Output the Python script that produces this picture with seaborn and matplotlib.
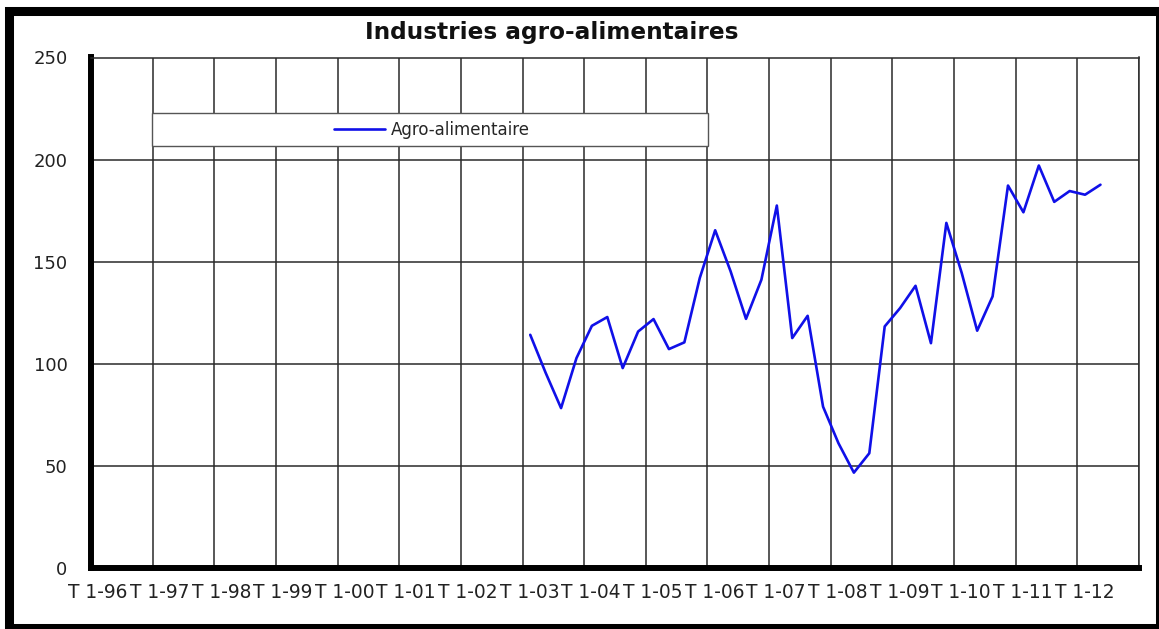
import numpy as np
import pandas as pd
import matplotlib
matplotlib.use("Agg")
import matplotlib.pyplot as plt
import seaborn as sns
from matplotlib.patches import Rectangle
from matplotlib.transforms import ScaledTranslation

# ---- data ----
years = ["96", "97", "98", "99", "00", "01", "02", "03", "04", "05",
         "06", "07", "08", "09", "10", "11", "12"]
quarters = [f"T{q}-{y}" for y in years for q in range(1, 5)]
year_labels = [f"T 1-{y}" for y in years]
series_name = "Agro-alimentaire"
series_start = "T1-03"
series_values = [114.2, 95.6, 78.3, 102.8, 118.6, 122.9, 97.9, 115.8,
                 121.9, 107.2, 110.5, 142.0, 165.4, 145.3, 122.0, 141.2,
                 177.5, 112.6, 123.5, 79.0, 61.1, 46.7, 56.2, 118.3,
                 127.3, 138.2, 110.1, 169.0, 144.4, 116.2, 133.0, 187.3,
                 174.2, 197.1, 179.3, 184.6, 182.8, 187.7]
y_ticks = [0, 50, 100, 150, 200, 250]
title = "Industries agro-alimentaires"

start = quarters.index(series_start)
df = pd.DataFrame({
    "pos": np.arange(start, start + len(series_values)),
    "value": series_values,
})

# ---- style ----
sns.set_theme(style="white")
plt.rcParams["font.family"] = ["DejaVu Sans"]

W, H = 1159, 629
fig = plt.figure(figsize=(W / 100, H / 100), dpi=100)
fig.patch.set_facecolor("white")

ax_l, ax_r, ax_t, ax_b = 91, 1139, 57.5, 568
ax = fig.add_axes([ax_l / W, 1 - ax_b / H, (ax_r - ax_l) / W, (ax_b - ax_t) / H])

sns.lineplot(data=df, x="pos", y="value", ax=ax, color="#1010e8",
             linewidth=1.9, legend=False)

n = len(quarters)
ax.set_xlim(-0.5, n - 0.5)
ax.set_ylim(y_ticks[0], y_ticks[-1])
xt = [4 * k - 0.5 for k in range(len(years) + 1)]
ax.set_xticks(xt)
ax.set_xticklabels(year_labels + [""])
ax.set_yticks(y_ticks)
ax.set_xlabel("")
ax.set_ylabel("")

ax.grid(True, color="#2a2a2a", linewidth=1.1)
ax.set_axisbelow(True)

for s in ["top", "right"]:
    ax.spines[s].set_color("#2a2a2a")
    ax.spines[s].set_linewidth(1.1)
for s in ["left", "bottom"]:
    ax.spines[s].set_color("black")
    ax.spines[s].set_linewidth(4.3)
    ax.spines[s].set_capstyle("projecting")

ax.tick_params(axis="x", length=3, width=3, direction="in", color="black",
               labelsize=13.4, pad=11, labelcolor="#222222")
ax.tick_params(axis="y", length=0, labelsize=13, pad=17, labelcolor="#222222")
offset = ScaledTranslation(0.07, 0, fig.dpi_scale_trans)
for lab in ax.get_xticklabels():
    lab.set_transform(lab.get_transform() + offset)

# legend box
box = Rectangle((152 / W, 1 - 146 / H), (708 - 152) / W, (146 - 113) / H,
                transform=fig.transFigure, facecolor="white",
                edgecolor="#555555", linewidth=1.0, zorder=5, clip_on=False)
ax.add_patch(box)
leg = ax.legend(handles=[ax.lines[0]], labels=[series_name], loc="center",
                bbox_to_anchor=(432 / W, 1 - 130 / H),
                bbox_transform=fig.transFigure, frameon=False, fontsize=12,
                handlelength=3.1, handletextpad=0.35)
leg.set_zorder(6)

fig.text(552 / W, 1 - 33 / H, title, ha="center", va="center",
         fontsize=16.7, fontweight="bold", color="#111111")

# outer frame
frame = Rectangle((8.5 / W, 1 - 627.5 / H), (1159.5 - 8.5) / W, (627.5 - 11) / H,
                  transform=fig.transFigure, fill=False, edgecolor="black",
                  linewidth=6.5, clip_on=False)
fig.patches.append(frame)

fig.savefig("out.png", dpi=100)
